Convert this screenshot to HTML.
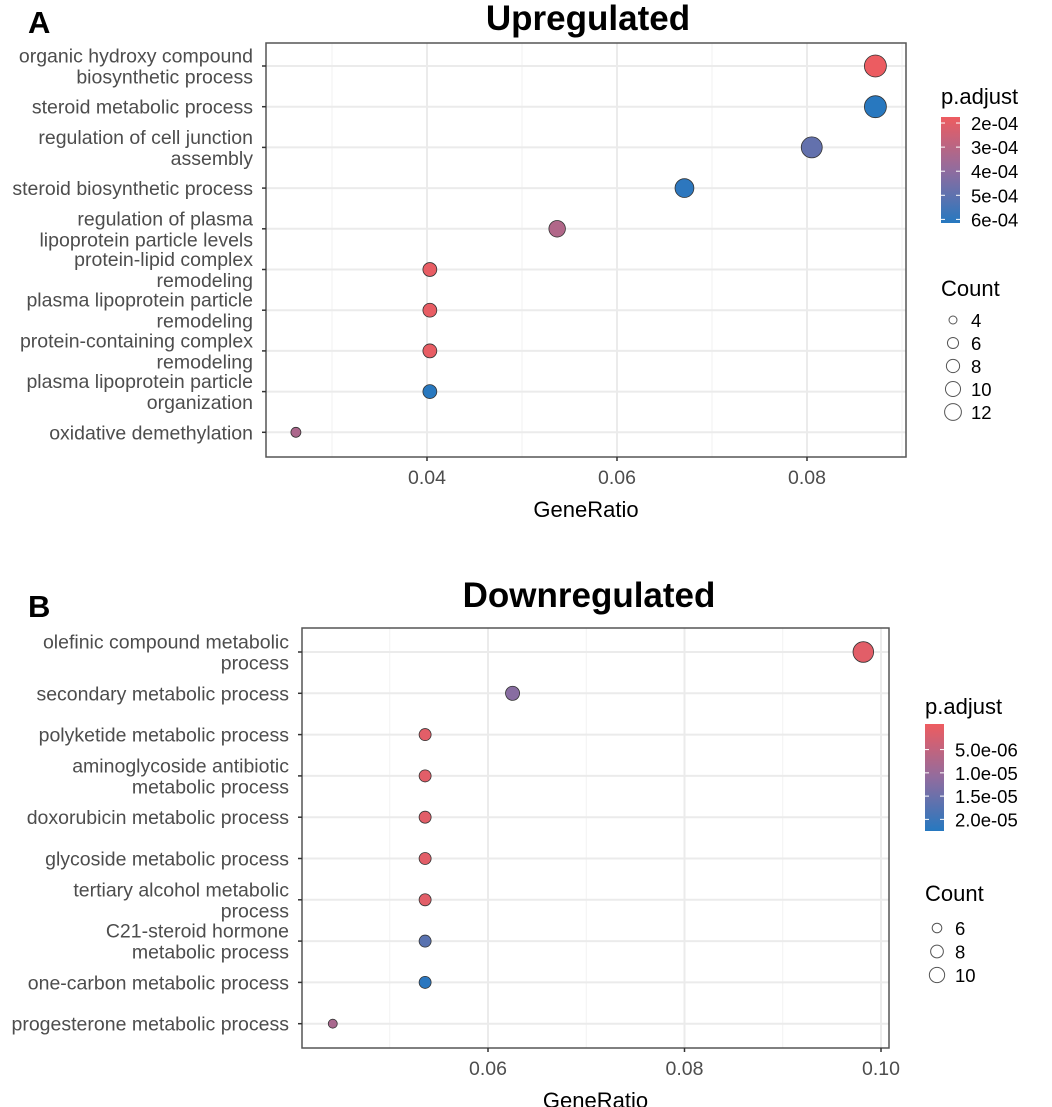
<!DOCTYPE html>
<html><head><meta charset="utf-8"><style>
body{margin:0;background:#fff;}
svg{display:block;font-family:"Liberation Sans",Arial,sans-serif;}
</style></head><body>
<svg id="fig" width="1052" height="1107" viewBox="0 0 1052 1107" xmlns="http://www.w3.org/2000/svg"></svg>
<script>
// ---- Panel A data ----
const upTerms = [["organic hydroxy compound","biosynthetic process"],["steroid metabolic process"],["regulation of cell junction","assembly"],["steroid biosynthetic process"],["regulation of plasma","lipoprotein particle levels"],["protein-lipid complex","remodeling"],["plasma lipoprotein particle","remodeling"],["protein-containing complex","remodeling"],["plasma lipoprotein particle","organization"],["oxidative demethylation"]];
const upRatio = [0.0872,0.0872,0.0805,0.0671,0.0537,0.0403,0.0403,0.0403,0.0403,0.0262];
const upCount = [13,13,12,10,8,6,6,6,6,4];
const upPadj = [1.8e-4,6.1e-4,4.9e-4,6.0e-4,3.2e-4,1.9e-4,1.9e-4,1.9e-4,6.1e-4,3.3e-4];
const upXTicks = [0.04,0.06,0.08];
const upXTickLabels = ["0.04","0.06","0.08"];
const upColorTicks = [2e-4,3e-4,4e-4,5e-4,6e-4];
const upColorLabels = ["2e-04","3e-04","4e-04","5e-04","6e-04"];
const upSizeBreaks = [4,6,8,10,12];
// ---- Panel B data ----
const downTerms = [["olefinic compound metabolic","process"],["secondary metabolic process"],["polyketide metabolic process"],["aminoglycoside antibiotic","metabolic process"],["doxorubicin metabolic process"],["glycoside metabolic process"],["tertiary alcohol metabolic","process"],["C21-steroid hormone","metabolic process"],["one-carbon metabolic process"],["progesterone metabolic process"]];
const downRatio = [0.0982,0.0625,0.0536,0.0536,0.0536,0.0536,0.0536,0.0536,0.0536,0.0442];
const downCount = [11,7,6,6,6,6,6,6,6,5];
const downPadj = [1e-6,1.2e-5,1e-6,1e-6,1e-6,1e-6,1e-6,1.7e-5,2.2e-5,8e-6];
const downXTicks = [0.06,0.08,0.10];
const downXTickLabels = ["0.06","0.08","0.10"];
const downColorTicks = [5e-6,1e-5,1.5e-5,2e-5];
const downColorLabels = ["5.0e-06","1.0e-05","1.5e-05","2.0e-05"];
const downSizeBreaks = [6,8,10];

const NS="http://www.w3.org/2000/svg";
const svg=document.getElementById('fig');
function mk(tag,attrs,parent,text){const e=document.createElementNS(NS,tag);for(const k in attrs)e.setAttribute(k,attrs[k]);if(text!==undefined)e.textContent=text;(parent||svg).appendChild(e);return e;}
const RED=[238,92,96], BLUE=[38,120,192];
function col(t){t=Math.max(0,Math.min(1,t));const m=[145,108,158];let a,b,u;
 if(t<0.5){a=RED;b=m;u=t/0.5;}else{a=m;b=BLUE;u=(t-0.5)/0.5;}
 return 'rgb('+a.map((v,i)=>Math.round(v+(b[i]-v)*u)).join(',')+')';}

function panel(o){
 const g=mk('g',{});
 
 
 const xs=v=>o.x0+(v-o.v0)*o.k;
 const ys=i=>o.rowY0+i*o.rowStep;
 const rs=n=>o.rmin+(o.rmax-o.rmin)*Math.pow((n-o.nmin)/(o.nmax-o.nmin),0.75);
 const cs=p=>col((p-o.pmin)/(o.pmax-o.pmin));
 const lt=mk('text',{x:o.letterX,y:o.letterY,'font-size':31,'font-weight':'bold',fill:'#000'},g,o.letter);
 
 
 const tt=mk('text',{x:o.titleX,y:o.titleY,'font-size':35,'font-weight':'bold','text-anchor':'middle',fill:'#000'},g,o.title);
 
 
 for(const v of o.minor){const x=xs(v);if(x>o.L&&x<o.R){const l=mk('line',{x1:x,x2:x,y1:o.T,y2:o.B,stroke:'#f2f2f2','stroke-width':1},g);}}
 o.xTicks.forEach(v=>{const x=xs(v);if(x<o.R){const l=mk('line',{x1:x,x2:x,y1:o.T,y2:o.B,stroke:'#ebebeb','stroke-width':2},g);}});
 o.terms.forEach((t,i)=>{const l=mk('line',{x1:o.L,x2:o.R,y1:ys(i),y2:ys(i),stroke:'#ebebeb','stroke-width':2},g);});
 const fr=mk('rect',{x:o.L,y:o.T,width:o.R-o.L,height:o.B-o.T,fill:'none',stroke:'#555','stroke-width':1.5},g);
 
 
 o.terms.forEach((t,i)=>{const y=ys(i);
  const tk=mk('line',{x1:o.L-4,x2:o.L,y1:y,y2:y,stroke:'#333','stroke-width':1.5},g);
  
  const n=t.length;const tx=mk('text',{'font-size':19.5,fill:'#4d4d4d','text-anchor':'end'},g);
  
  
  t.forEach((s,j)=>{mk('tspan',{x:o.L-13,y:y+7+(j-(n-1)/2)*21},tx,s);});
 });
 o.xTicks.forEach((v,i)=>{const x=xs(v);
  const tk=mk('line',{x1:x,x2:x,y1:o.B,y2:o.B+4,stroke:'#333','stroke-width':1.5},g);
  
  const tl=mk('text',{x:x,y:o.B+27,'font-size':19.5,fill:'#4d4d4d','text-anchor':'middle'},g,o.xLabels[i]);
  });
 const xt=mk('text',{x:(o.L+o.R)/2,y:o.B+60,'font-size':22,fill:'#000','text-anchor':'middle'},g,'GeneRatio');
 
 
 o.ratio.forEach((v,i)=>{const c=mk('circle',{cx:xs(v),cy:ys(i),r:rs(o.count[i]),fill:cs(o.padj[i]),stroke:'#333','stroke-width':0.8},g);
  
  });
 const lg=mk('text',{x:o.cbX,y:o.cbTitleY,'font-size':22,fill:'#000'},g,'p.adjust');
 
 const gid='grad'+o.letter;const defs=mk('defs',{},g);const lgd=mk('linearGradient',{id:gid,x1:0,y1:0,x2:0,y2:1},defs);
 for(let s=0;s<=10;s++)mk('stop',{offset:s/10,'stop-color':col(s/10)},lgd);
 const cb=mk('rect',{x:o.cbX,y:o.cbT,width:19,height:o.cbB-o.cbT,fill:'url(#'+gid+')'},g);
 
 const cy=p=>o.cbT+(p-o.pmin)/(o.pmax-o.pmin)*(o.cbB-o.cbT);
 o.cTicks.forEach((p,i)=>{const y=cy(p);
  mk('line',{x1:o.cbX,x2:o.cbX+4,y1:y,y2:y,stroke:'#fff','stroke-width':1},g);
  mk('line',{x1:o.cbX+15,x2:o.cbX+19,y1:y,y2:y,stroke:'#fff','stroke-width':1},g);
  const t=mk('text',{x:o.cbX+30,y:y+7,'font-size':18.5,fill:'#000'},g,o.cLabels[i]);
  });
 const ct=mk('text',{x:o.cbX,y:o.cntTitleY,'font-size':22,fill:'#000'},g,'Count');
 
 o.sizes.forEach((n,i)=>{const y=o.cntY0+i*o.cntStep;
  const c=mk('circle',{cx:o.cbX+12,cy:y,r:rs(n)*0.8,fill:'none',stroke:'#555','stroke-width':1},g);
  
  const t=mk('text',{x:o.cbX+30,y:y+7,'font-size':18.5,fill:'#000'},g,String(n));
  });
}

panel({name:'panel-a-upregulated',letter:'A',letterX:28,letterY:33,title:'Upregulated',titleX:588,titleY:30,
 L:266,R:906,T:43,B:457,x0:427,v0:0.04,k:9500,rowY0:66,rowStep:40.7,minor:[0.03,0.05,0.07,0.09],
 terms:upTerms,ratio:upRatio,count:upCount,padj:upPadj,xTicks:upXTicks,xLabels:upXTickLabels,
 rmin:5,rmax:11,nmin:4,nmax:13,pmin:1.75e-4,pmax:6.15e-4,
 cbX:941,cbTitleY:104,cbT:117,cbB:223,cTicks:upColorTicks,cLabels:upColorLabels,
 cntTitleY:296,sizes:upSizeBreaks,cntY0:320,cntStep:23});

panel({name:'panel-b-downregulated',letter:'B',letterX:28,letterY:617,title:'Downregulated',titleX:589,titleY:607,
 L:302,R:889,T:628,B:1048,x0:488,v0:0.06,k:9825,rowY0:652,rowStep:41.3,minor:[0.05,0.07,0.09],
 terms:downTerms,ratio:downRatio,count:downCount,padj:downPadj,xTicks:downXTicks,xLabels:downXTickLabels,
 rmin:4.5,rmax:10.3,nmin:5,nmax:11,pmin:-5e-7,pmax:2.25e-5,
 cbX:925,cbTitleY:714,cbT:724,cbB:831,cTicks:downColorTicks,cLabels:downColorLabels,
 cntTitleY:901,sizes:downSizeBreaks,cntY0:928,cntStep:23.5});
</script>
</body></html>
